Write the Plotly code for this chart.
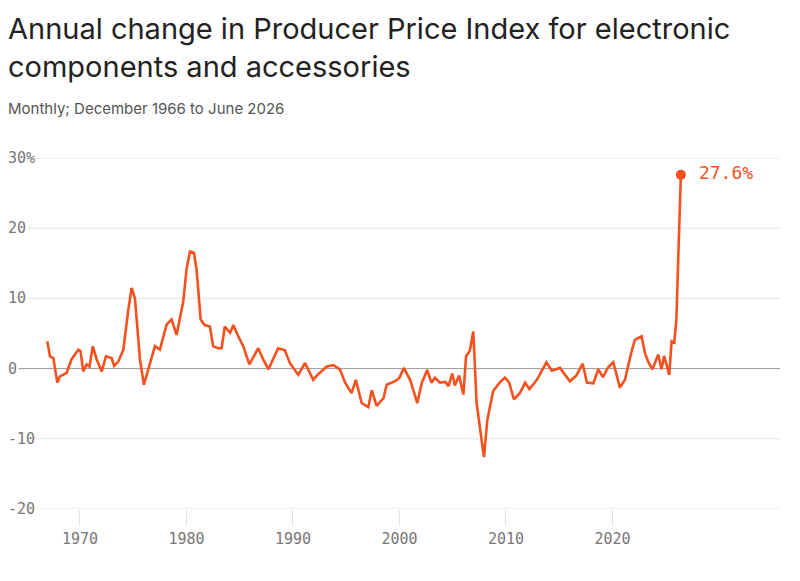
import plotly.graph_objects as go

# readings (decimal year, annual % change)
years = [1966.93, 1967.18, 1967.5, 1967.87, 1968.12, 1968.75, 1969.2, 1969.84, 1970.05, 1970.3,
         1970.63, 1970.9, 1971.2, 1971.57, 1972.04, 1972.44, 1972.97, 1973.2, 1973.6, 1974.07,
         1974.54, 1974.85, 1975.16, 1975.63, 1976.0, 1976.57, 1977.04, 1977.5, 1978.14, 1978.6,
         1979.07, 1979.7, 1980.0, 1980.33, 1980.7, 1980.95, 1981.33, 1981.7, 1982.2, 1982.5,
         1982.98, 1983.3, 1983.6, 1984.1, 1984.4, 1984.86, 1985.33, 1985.9, 1986.74, 1987.2,
         1987.7, 1988.6, 1989.24, 1989.7, 1990.5, 1991.13, 1991.9, 1992.3, 1993.17, 1993.8,
         1994.4, 1994.9, 1995.5, 1995.9, 1996.45, 1997.07, 1997.4, 1997.85, 1998.5, 1998.8,
         1999.6, 2000.0, 2000.4, 2001.0, 2001.67, 2002.1, 2002.6, 2003.0, 2003.33, 2003.8,
         2004.3, 2004.6, 2004.96, 2005.2, 2005.6, 2006.0, 2006.25, 2006.6, 2006.93, 2007.24,
         2007.56, 2007.93, 2008.25, 2008.8, 2009.4, 2009.9, 2010.3, 2010.75, 2011.3, 2011.8,
         2012.2, 2012.9, 2013.8, 2014.3, 2015.07, 2016.0, 2016.6, 2017.2, 2017.6, 2018.2,
         2018.67, 2019.1, 2019.6, 2020.07, 2020.7, 2021.17, 2021.8, 2022.1, 2022.73, 2023.05,
         2023.4, 2023.76, 2024.3, 2024.6, 2024.85, 2025.33, 2025.55, 2025.8, 2026.0, 2026.17,
         2026.42]
change = [3.9, 1.75, 1.5, -2.0, -1.1, -0.6, 1.3, 2.7, 2.5, -0.4,
          0.6, 0.3, 3.2, 1.3, -0.4, 1.75, 1.5, 0.4, 1.0, 2.7,
          8.4, 11.5, 10.0, 1.3, -2.3, 0.6, 3.2, 2.7, 6.3, 7.0,
          4.8, 9.6, 14.1, 16.7, 16.5, 14.1, 7.0, 6.2, 6.0, 3.2,
          2.9, 2.9, 6.0, 5.1, 6.2, 4.6, 3.2, 0.6, 2.9, 1.3,
          -0.1, 2.9, 2.6, 0.8, -0.9, 0.8, -1.6, -0.9, 0.3, 0.5,
          -0.1, -2.0, -3.5, -1.6, -4.9, -5.5, -3.1, -5.3, -4.2, -2.3,
          -1.8, -1.3, 0.1, -1.6, -4.9, -2.0, -0.2, -2.0, -1.3, -2.0,
          -1.9, -2.5, -0.7, -2.4, -1.0, -3.7, 1.75, 2.5, 5.3, -4.9,
          -8.7, -12.6, -7.3, -3.2, -2.0, -1.3, -2.0, -4.4, -3.5, -2.0,
          -2.9, -1.6, 0.9, -0.3, 0.1, -1.8, -1.0, 0.7, -2.0, -2.1,
          -0.1, -1.2, 0.2, 0.9, -2.7, -1.6, 2.5, 4.1, 4.6, 2.2,
          0.8, -0.1, 2.0, -0.1, 1.8, -0.9, 3.9, 3.7, 7.0, 17.0,
          27.6]

y_ticks = [30, 20, 10, 0, -10, -20]
x_ticks = [1970, 1980, 1990, 2000, 2010, 2020]

ORANGE = "#f4511e"
MONO = "DejaVu Sans Mono"
SANS = "Inter"

fig = go.Figure()
fig.add_trace(go.Scatter(x=years, y=change, mode="lines",
                         line=dict(color=ORANGE, width=2.6), hoverinfo="skip"))
fig.add_trace(go.Scatter(x=[years[-1]], y=[change[-1]], mode="markers+text",
                         marker=dict(color=ORANGE, size=10),
                         text=[" %.1f%%" % change[-1]], textposition="middle right",
                         textfont=dict(family=MONO, size=18, color=ORANGE),
                         hoverinfo="skip", cliponaxis=False))

for v in y_ticks:
    fig.add_shape(type="line", xref="paper", yref="y", x0=0, x1=1, y0=v, y1=v,
                  line=dict(color="#999999" if v == 0 else "#e3e3e3", width=1), layer="below")
    fig.add_annotation(xref="paper", yref="y", x=0, y=v, xanchor="left", yanchor="middle",
                       text=f"{v}%" if v == 30 else str(v), showarrow=False, bgcolor="white",
                       font=dict(family=MONO, size=15, color="#777777"), xshift=-2)

fig.add_annotation(xref="paper", yref="paper", x=0, y=1.425, xanchor="left", yanchor="top",
                   text="Annual change in Producer Price Index for electronic<br>components and accessories",
                   showarrow=False, align="left", xshift=-2,
                   font=dict(family=SANS, size=29, color="#222222"))
fig.add_annotation(xref="paper", yref="paper", x=0, y=1.175, xanchor="left", yanchor="top",
                   text="Monthly; December 1966 to June 2026", showarrow=False, xshift=-2,
                   font=dict(family=SANS, size=15, color="#555555"))

fig.update_layout(
    width=800, height=581,
    margin=dict(l=0, r=28, t=150, b=80),
    paper_bgcolor="white", plot_bgcolor="white",
    showlegend=False,
    xaxis=dict(range=[1963.24, 2035.73], tickvals=x_ticks, showgrid=False, zeroline=False,
               ticks="outside", ticklen=16, tickcolor="#e3e3e3",
               tickfont=dict(family=MONO, size=15, color="#777777")),
    yaxis=dict(range=[-20, 30], showgrid=False, zeroline=False, showticklabels=False),
)

fig.write_html("out.html")
